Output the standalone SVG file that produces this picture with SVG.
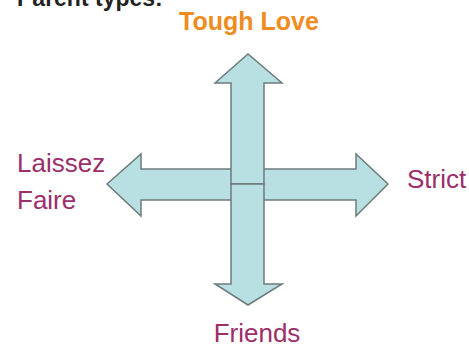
<svg xmlns="http://www.w3.org/2000/svg" width="469" height="347" viewBox="0 0 469 347">
<style>
.arrow{fill:#b8dfe1;stroke:#6d7b7c;stroke-width:1.5;stroke-linejoin:miter}
.lbl{font-family:"Liberation Sans",Arial,sans-serif;font-size:26px;fill:#9c2e6a}
.title{font-family:"Liberation Sans",Arial,sans-serif;font-weight:bold}
</style>
<rect width="469" height="347" fill="#ffffff"/>
<text class="title" x="17" y="6" font-size="23" fill="#222222">Parent types:</text>
<g id="connectors">
<path class="arrow" d="M107,184 L141,154 L141,169 L356,169 L356,154 L388,184 L356,216 L356,200 L141,200 L141,216 Z"/>
<path class="arrow" d="M231,184 L231,83 L215,83 L248,54 L282,83 L264,83 L264,184 Z"/>
<path class="arrow" d="M231,184 L231,284 L215,284 L248,305 L282,284 L264,284 L264,184 Z"/>
</g>
<g id="tough-love"><text class="title" x="249" y="30" font-size="25" fill="#ef8c1f" text-anchor="middle">Tough Love</text></g>
<g id="laissez-faire"><text class="lbl" x="17" y="172">Laissez</text><text class="lbl" x="17" y="209">Faire</text></g>
<g id="strict"><text class="lbl" x="407" y="188">Strict</text></g>
<g id="friends"><text class="lbl" x="257" y="342" text-anchor="middle">Friends</text></g>
</svg>
